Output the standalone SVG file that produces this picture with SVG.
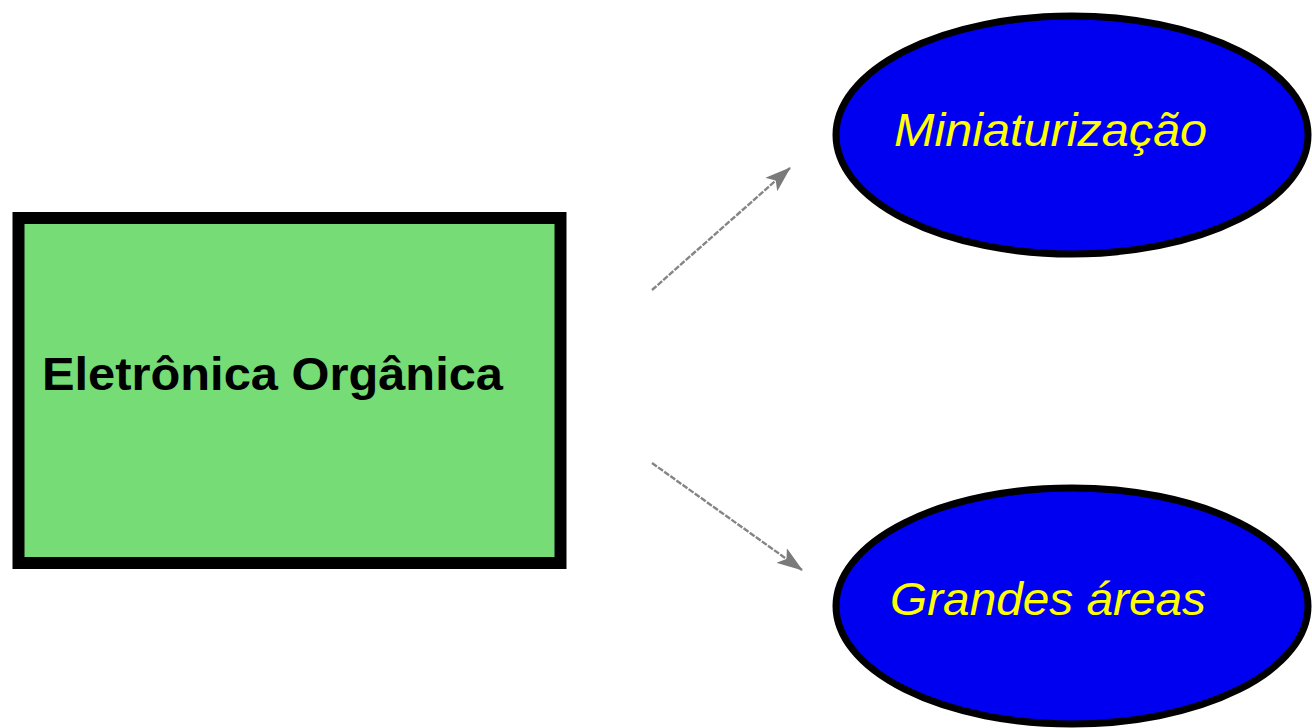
<svg xmlns="http://www.w3.org/2000/svg" width="1312" height="728" viewBox="0 0 1312 728">
<style>
.box{fill:#76dd76;stroke:#000;stroke-width:12}
.ell{fill:#0000f0;stroke:#000;stroke-width:7}
.t1{font-family:"Liberation Sans",Arial,sans-serif;font-weight:bold;font-size:47px;fill:#000}
.t2{font-family:"Liberation Sans",Arial,sans-serif;font-style:italic;font-size:46px;fill:#ffff00}
.conn{stroke:#858585;stroke-width:2.4;stroke-dasharray:6 1.5;fill:none}
</style>
<defs>
<marker id="ah" viewBox="0 0 26 18" refX="25" refY="9" markerWidth="26" markerHeight="18" markerUnits="userSpaceOnUse" orient="auto">
<path d="M0,0 L26,9 L0,18 L6,9 Z" fill="#7a7a7a"/>
</marker>
</defs>
<rect width="1312" height="728" fill="#fff"/>
<g id="connectors">
<line class="conn" x1="652" y1="290" x2="790" y2="168" marker-end="url(#ah)"/>
<line class="conn" x1="652" y1="463" x2="802" y2="570" marker-end="url(#ah)"/>
</g>
<g id="eletronica">
<rect class="box" x="18.5" y="218" width="542" height="345"/>
<text class="t1" x="42" y="390" textLength="461" lengthAdjust="spacingAndGlyphs">Eletrônica Orgânica</text>
</g>
<g id="miniaturizacao">
<ellipse class="ell" cx="1072" cy="135" rx="236" ry="119"/>
<text class="t2" x="894" y="146" textLength="313" lengthAdjust="spacingAndGlyphs">Miniaturização</text>
</g>
<g id="grandes">
<ellipse class="ell" cx="1072" cy="606" rx="236" ry="118"/>
<text class="t2" x="890" y="615" textLength="316" lengthAdjust="spacingAndGlyphs">Grandes áreas</text>
</g>
</svg>
